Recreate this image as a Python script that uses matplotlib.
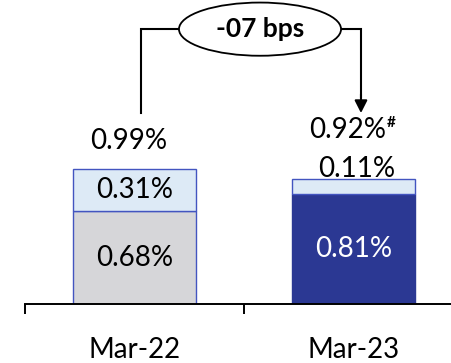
import matplotlib
matplotlib.use("Agg")
import matplotlib.pyplot as plt
from matplotlib.patches import Ellipse

plt.rcParams['font.family'] = ['Lato', 'DejaVu Sans']

categories = ["Mar-22", "Mar-23"]
lower = [0.68, 0.81]
upper = [0.31, 0.11]
totals = [0.99, 0.92]
lower_labels = ["0.68%", "0.81%"]
upper_labels = ["0.31%", "0.11%"]
total_labels = ["0.99%", "0.92%"]
change_label = "-07 bps"

lower_colors = ["#D6D6D9", "#2B3893"]
lower_text = ["black", "white"]
upper_color = "#DDEAF6"
edge = "#4355C0"

fig = plt.figure(figsize=(4.51, 3.63), dpi=100)
ax = fig.add_axes([25/451, 59/363, 426/451, 304/363])
ax.set_xlim(-0.5, 1.445)
ax.set_ylim(0, 304/136.4)

x = list(range(len(categories)))
w = 0.56
ax.bar(x, lower, width=w, color=lower_colors, edgecolor=[edge, lower_colors[1]], linewidth=1.0)
ax.bar(x, upper, bottom=lower, width=w, color=upper_color, edgecolor=edge, linewidth=1.0)

fs = 20
for i in x:
    ax.text(i, lower[i] / 2, lower_labels[i], ha="center", va="center",
            fontsize=fs, color=lower_text[i])

# upper segment labels: inside if it fits, above otherwise
ax.text(0, lower[0] + upper[0] / 2, upper_labels[0], ha="center", va="center", fontsize=fs)
ax.annotate(upper_labels[1], (1, totals[1]), xytext=(2, 6.5), textcoords="offset points",
            ha="center", va="center", fontsize=fs)
ax.annotate(total_labels[0], (0, totals[0]), xytext=(-4.5, 20), textcoords="offset points",
            ha="center", va="center", fontsize=fs)
ax.annotate(total_labels[1], (1, totals[1]), xytext=(-4.5, 35), textcoords="offset points",
            ha="center", va="center", fontsize=fs)
ax.annotate("#", (1, totals[1]), xytext=(24, 40), textcoords="offset points",
            ha="left", va="center", fontsize=11, fontweight="bold")

# bracket with change
top = max(totals) + 1.025
lx, rx = 0.03, 1.034
ax.plot([lx, lx, 0.573 - 0.37], [totals[0] + 0.41, top, top], color="black", lw=1.5,
        solid_joinstyle="miter", clip_on=False)
ax.plot([0.573 + 0.37, rx, rx], [top, top, totals[1] + 0.6], color="black", lw=1.5,
        solid_joinstyle="miter", clip_on=False)
ax.annotate("", xy=(rx, totals[1] + 0.48), xytext=(rx, totals[1] + 0.62),
            arrowprops=dict(arrowstyle="-|>,head_length=0.75,head_width=0.38",
                            color="black", lw=1.5, shrinkA=0, shrinkB=0))
ax.add_patch(Ellipse((0.573, top), 0.74, 0.39, facecolor="white", edgecolor="black",
                     lw=1.3, clip_on=False, zorder=3))
ax.text(0.573, top, change_label, ha="center", va="center", fontsize=19,
        fontweight="bold", zorder=4)

for s in ["top", "right", "left"]:
    ax.spines[s].set_visible(False)
ax.spines["bottom"].set_linewidth(1.4)
ax.set_yticks([])
ax.set_xticks([-0.5, 0.5])
ax.set_xticklabels([])
ax.tick_params(axis="x", which="major", direction="out", length=7.5, width=1.4)
ax.set_xticks(x, minor=True)
ax.set_xticklabels(categories, minor=True, fontsize=fs)
ax.tick_params(axis="x", which="minor", length=0, pad=24)

fig.savefig("out.png", dpi=100)
